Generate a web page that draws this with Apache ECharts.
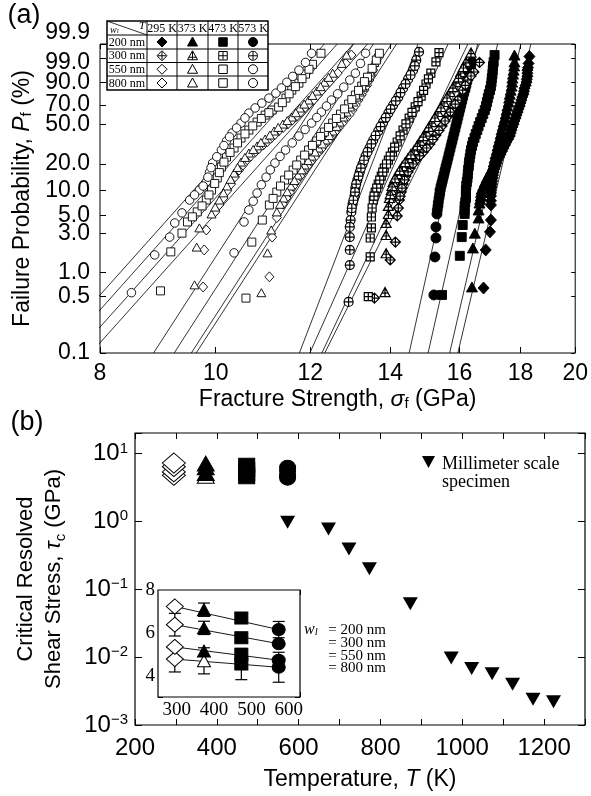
<!DOCTYPE html>
<html><head><meta charset="utf-8">
<script src="https://cdn.jsdelivr.net/npm/echarts@6/dist/echarts.min.js"></script>
<style>html,body{margin:0;padding:0;background:#fff}#c{width:591px;height:796px}</style>
</head><body><div id="c"></div>
<script>
// ---------------- Panel (a): Weibull plot, sigma_f (GPa) vs P_f (%) ----------------
const xTicksA = [8, 10, 12, 14, 16, 18, 20];
const yTicksA = [0.1, 0.5, 1, 3, 5, 10, 20, 50, 70, 90, 99, 99.9];
const yTickLabelsA = ['0.1','0.5','1.0','3.0','5.0','10.0','20.0','50.0','70.0','90.0','99.0','99.9'];

// w = 200 nm (filled)
const d295_200 = [[18.31,99.2],[18.28,98.1],[18.24,96.2],[18.24,93.6],[18.21,90.2],[18.14,85.8],[18.10,80.7],[18.03,75.1],[17.97,69.0],[17.90,62.7],[17.83,56.4],[17.76,50.3],[17.69,44.5],[17.63,39.2],[17.52,34.2],[17.42,29.7],[17.32,25.6],[17.22,22.1],[17.16,19.0],[17.09,16.2],[17.06,13.9],[17.03,11.8],[17.00,10.05],[17.00,8.55],[17.00,6.67],[17.00,4.39],[16.97,3.15],[16.83,1.89],[16.76,0.64],
  [18.26,97.0],[18.24,95.0],[18.22,92.0],[18.18,88.0],[18.12,83.3],[18.06,78.0],[18.00,72.2],[17.93,66.0],[17.86,59.5],[17.79,53.4],[17.72,47.5],[17.66,41.8],[17.58,36.7],[17.47,31.9],[17.37,27.6],[17.27,23.8],[17.19,20.5],[17.12,17.6],[17.07,15.0],[17.04,12.8],[17.02,10.9],[17.00,9.3],[17.00,7.5]];
const d373_200 = [[17.79,99.35],[17.79,98.4],[17.76,96.2],[17.72,92.6],[17.69,87.4],[17.63,80.7],[17.59,73.1],[17.52,64.8],[17.46,56.4],[17.39,48.4],[17.32,40.9],[17.25,34.2],[17.19,28.3],[17.12,23.2],[17.06,19.0],[16.93,15.4],[16.80,12.5],[16.70,10.3],[16.67,8.55],[16.63,7.05],[16.60,5.81],[16.60,4.65],[16.48,3.04],[16.42,2.0],[16.39,0.66],
  [17.78,97.5],[17.74,94.6],[17.71,90.2],[17.66,84.2],[17.61,77.0],[17.55,69.0],[17.49,60.6],[17.42,52.3],[17.35,44.6],[17.29,37.5],[17.22,31.2],[17.15,25.7],[17.09,21.0],[17.00,17.2],[16.86,13.9],[16.75,11.3],[16.68,9.4],[16.65,7.8]];
const d473_200 = [[17.12,99.35],[17.09,98.4],[17.06,96.2],[17.03,92.6],[17.00,87.4],[16.93,80.7],[16.87,73.1],[16.80,64.8],[16.70,56.4],[16.60,48.4],[16.51,40.9],[16.42,34.2],[16.36,28.3],[16.32,23.2],[16.29,19.0],[16.26,15.4],[16.23,12.5],[16.20,10.05],[16.20,8.08],[16.16,6.5],[16.16,5.2],[16.10,3.82],[16.07,2.72],[16.01,1.60],[15.47,0.525],
  [17.07,97.5],[17.05,94.6],[17.02,90.2],[16.97,84.2],[16.90,77.0],[16.84,69.0],[16.75,60.6],[16.65,52.3],[16.56,44.6],[16.47,37.5],[16.39,31.2],[16.34,25.7],[16.30,21.0],[16.27,17.2],[16.25,13.9],[16.21,11.3],[16.20,9.0],[16.18,7.2],[16.16,5.8]];
const d573_200 = [[16.39,98.4],[16.32,96.2],[16.26,92.6],[16.20,87.4],[16.13,80.7],[16.07,73.1],[16.01,64.8],[15.95,56.4],[15.89,48.4],[15.83,40.9],[15.77,34.2],[15.71,28.3],[15.65,23.2],[15.59,19.0],[15.53,15.4],[15.47,12.5],[15.41,10.05],[15.38,8.08],[15.35,6.5],[15.32,5.2],[15.29,3.62],[15.29,2.65],[15.26,1.55],[15.23,0.525],
  [16.35,97.5],[16.29,94.6],[16.23,90.2],[16.17,84.2],[16.10,77.0],[16.04,69.0],[15.98,60.6],[15.92,52.3],[15.86,44.6],[15.80,37.5],[15.74,31.2],[15.68,25.7],[15.62,21.0],[15.56,17.2],[15.50,13.9],[15.44,11.3],[15.40,9.0],[15.36,7.2],[15.33,5.8]];
// w = 300 nm (crossed)
const d295_300 = [[16.63,98.3],[16.45,95.5],[16.26,91.5],[16.10,84.2],[15.95,75.1],[15.80,66.9],[15.65,58.4],[15.47,48.4],[15.29,40.0],[15.11,32.6],[14.92,26.9],[14.71,22.1],[14.55,18.0],[14.43,14.6],[14.35,11.8],[14.30,9.5],[14.25,7.65],[14.22,6.14],[14.19,4.92],[14.14,2.36],[14.00,1.42],[13.58,0.48],
  [15.87,71.0],[15.72,62.7],[15.56,53.4],[15.38,44.2],[15.20,36.2],[15.02,29.7],[14.82,24.5],[14.63,20.0],[14.49,16.3],[14.39,13.2],[14.32,10.6],[14.27,8.5],[16.18,88.0],[16.36,93.7]];
const d373_300 = [[16.36,99.55],[16.20,98.4],[16.04,95.5],[15.89,90.2],[15.71,82.6],[15.53,73.1],[15.35,62.7],[15.17,52.2],[15.00,43.0],[14.83,35.1],[14.66,28.3],[14.49,23.2],[14.33,19.0],[14.19,15.4],[14.08,12.5],[14.03,10.05],[13.98,8.08],[13.95,6.5],[13.95,5.2],[13.89,4.05],[13.89,2.88],[13.89,1.72],[13.86,0.57],
  [16.12,97.2],[15.97,93.0],[15.80,86.6],[15.62,78.0],[15.44,68.0],[15.26,57.5],[15.08,47.5],[14.92,39.0],[14.75,31.6],[14.57,25.7],[14.41,21.0],[14.26,17.1],[14.13,13.9],[14.05,11.2],[14.00,9.0]];
const d473_300 = [[15.38,99.55],[15.29,98.4],[15.14,95.0],[15.00,88.9],[14.86,78.9],[14.69,68.2],[14.52,56.4],[14.35,44.5],[14.19,34.2],[14.06,26.9],[13.95,22.1],[13.84,18.0],[13.76,14.6],[13.68,11.8],[13.60,9.5],[13.55,7.65],[13.52,6.14],[13.50,4.78],[13.50,3.52],[13.47,2.65],[13.47,1.55],[13.42,0.5],
  [15.07,92.2],[14.93,84.0],[14.77,73.5],[14.60,62.3],[14.43,50.4],[14.27,39.2],[14.12,30.4],[14.00,24.4],[13.90,20.0],[13.80,16.2],[13.72,13.1],[13.64,10.6],[13.57,8.5]];
const d573_300 = [[14.80,99.6],[14.72,98.7],[14.63,96.2],[14.49,92.0],[14.35,85.8],[14.22,78.0],[14.08,70.0],[13.95,61.6],[13.81,52.2],[13.68,43.6],[13.55,35.8],[13.45,29.7],[13.35,24.4],[13.27,19.8],[13.20,16.2],[13.14,13.15],[13.09,10.6],[13.07,8.55],[13.02,6.85],[12.99,5.5],[12.97,4.39],[12.95,3.62],[12.95,2.72],[12.95,1.89],[12.95,1.23],[12.92,0.43],
  [14.68,97.5],[14.56,94.2],[14.42,89.0],[14.28,82.0],[14.15,74.2],[14.01,65.8],[13.88,56.9],[13.74,47.8],[13.61,39.6],[13.50,32.7],[13.40,27.0],[13.31,22.0],[13.23,18.0],[13.17,14.6],[13.11,11.8],[13.08,9.5],[13.04,7.6],[13.00,6.1]];
// w = 550 nm (open)
const d295_550 = [[11.09,0.88],[11.15,2.72],[11.25,4.7],[11.38,6.85],[11.54,9.5],[11.69,12.8],[11.85,16.6],[12.01,21.0],[12.18,26.3],[12.33,31.9],[12.50,38.2],[12.67,46.3],[12.85,55.4],[13.02,64.8],[13.17,75.1],[13.32,84.2],[13.45,91.5],[13.55,96.2],[13.63,98.5],
  [11.46,8.1],[11.61,11.1],[11.77,14.6],[11.93,18.7],[12.10,23.6],[12.26,29.0],[12.42,35.0],[12.58,42.2],[12.76,50.8],[12.94,60.0],[13.10,70.0],[13.25,80.0],[13.39,88.0],[13.50,94.0]];
const d373_550 = [[10.92,0.56],[11.05,1.74],[11.13,3.32],[11.25,5.51],[11.40,8.08],[11.56,11.2],[11.72,15.0],[11.87,19.5],[12.03,24.4],[12.20,29.7],[12.36,35.8],[12.53,43.6],[12.70,52.3],[12.87,62.7],[13.04,73.1],[13.20,82.6],[13.35,90.1],[13.47,95.5],[13.58,98.3],[13.66,99.5],
  [11.32,6.8],[11.48,9.6],[11.64,13.0],[11.80,17.2],[11.95,21.8],[12.11,27.0],[12.28,32.7],[12.45,39.6],[12.62,48.0],[12.79,57.5],[12.96,68.0],[13.12,78.0],[13.28,86.5],[13.41,93.0]];
const d473_550 = [[10.60,0.48],[10.72,2.36],[10.94,4.39],[11.09,6.67],[11.25,9.5],[11.42,13.15],[11.61,17.1],[11.78,22.1],[11.96,28.3],[12.15,35.0],[12.33,42.7],[12.53,51.3],[12.72,60.5],[12.92,71.0],[13.09,79.85],[13.25,87.4],[13.40,93.1],[13.52,96.8],[13.63,98.72],[13.71,99.5],
  [11.17,8.0],[11.33,11.2],[11.51,15.0],[11.69,19.5],[11.87,25.0],[12.05,31.6],[12.24,38.8],[12.43,47.0],[12.62,56.0],[12.82,66.0],[13.00,75.5],[13.17,84.0],[13.32,90.5]];
const d573_550 = [[10.36,1.74],[10.56,4.16],[10.66,5.81],[10.83,9.25],[11.02,14.2],[11.21,20.5],[11.44,28.3],[11.74,39.1],[12.03,51.3],[12.26,62.7],[12.50,75.1],[12.80,86.6],[13.09,95.0],[13.22,98.1],[13.35,99.5],
  [10.75,7.4],[10.92,11.6],[11.11,17.2],[11.32,24.2],[11.59,33.5],[11.88,45.0],[12.15,57.0],[12.38,69.0],[12.65,81.0],[12.95,91.5]];
// w = 800 nm (open)
const d295_800 = [[9.76,0.66],[9.78,1.89],[9.82,3.32],[9.99,5.51],[10.15,8.08],[10.30,11.8],[10.46,17.1],[10.62,22.1],[10.79,26.9],[10.96,31.9],[11.13,37.4],[11.29,43.6],[11.49,50.3],[11.69,58.4],[11.87,66.9],[12.08,75.1],[12.26,83.4],[12.45,90.1],[12.65,95.0],[12.85,98.1],[12.99,99.35],
  [10.07,6.7],[10.22,9.8],[10.38,14.3],[10.54,19.5],[10.70,24.4],[10.87,29.3],[11.05,34.6],[11.21,40.4],[11.39,47.0],[11.59,54.3],[11.78,62.7],[11.97,71.0],[12.17,79.5],[12.35,87.0],[12.55,93.0]];
const d373_800 = [[9.60,0.70],[9.64,2.05],[9.69,3.52],[9.92,5.2],[10.07,7.65],[10.22,11.2],[10.36,15.8],[10.50,21.0],[10.66,26.3],[10.83,31.2],[11.00,36.6],[11.19,43.6],[11.38,50.3],[11.58,57.4],[11.76,66.9],[11.96,75.1],[12.15,83.4],[12.33,90.1],[12.53,95.0],[12.75,98.1],[12.87,99.35],
  [9.99,6.3],[10.15,9.3],[10.29,13.4],[10.43,18.3],[10.58,23.6],[10.75,28.7],[10.91,33.9],[11.10,40.0],[11.28,47.0],[11.48,53.8],[11.67,62.0],[11.86,71.0],[12.05,79.5],[12.24,87.0],[12.43,93.0]];
const d473_800 = [[8.99,0.59],[9.17,1.79],[9.37,3.04],[9.47,4.16],[9.65,5.51],[9.82,7.65],[9.92,10.05],[10.03,13.9],[10.11,18.5],[10.21,23.8],[10.36,29.7],[10.50,37.4],[10.66,44.5],[10.83,52.3],[11.00,59.5],[11.15,64.8],[11.29,67.9],[11.45,77.0],[11.58,84.2],[11.74,89.5],[11.89,94.6],[12.05,97.9],[12.25,99.5],
  [9.56,4.8],[9.74,6.5],[9.87,8.8],[9.98,12.0],[10.07,16.0],[10.16,21.0],[10.28,26.7],[10.43,33.5],[10.58,41.0],[10.74,48.5],[10.92,56.0],[11.08,62.0],[11.37,72.5],[11.52,81.0],[11.66,87.0],[11.81,92.3],[11.97,96.5]];
const d573_800 = [[8.50,0.56],[8.89,1.64],[9.15,2.72],[9.24,4.04],[9.37,5.36],[9.51,7.65],[9.69,10.05],[9.82,12.5],[9.88,16.0],[9.94,20.5],[10.11,28.3],[10.21,35.0],[10.32,41.8],[10.50,51.3],[10.66,61.6],[10.93,72.0],[11.23,81.6],[11.47,90.1],[11.74,96.2],[11.89,98.3],[12.03,99.5],
  [9.60,8.8],[9.76,11.2],[9.85,14.2],[9.91,18.2],[10.02,24.0],[10.16,31.5],[10.27,38.4],[10.41,46.5],[10.58,56.5],[10.79,67.0],[11.08,77.0],[11.35,86.0],[11.60,93.5]];

// Weibull fit lines: sigma at P = 0.1 % and at P = 99.9 %
const fit295_200 = [15.95, 18.36], fit373_200 = [15.70, 18.01], fit473_200 = [15.06, 17.22], fit573_200 = [14.52, 16.57];
const fit295_300 = [12.34, 16.63], fit373_300 = [12.27, 16.26], fit473_300 = [11.99, 15.65], fit573_300 = [11.75, 14.77];
const fit295_550 = [9.63, 14.17], fit373_550 = [9.54, 14.03], fit473_550 = [9.23, 13.55], fit573_550 = [8.87, 13.04];
const fit295_800 = [7.86, 13.40], fit373_800 = [7.65, 13.04], fit473_800 = [7.43, 12.64], fit573_800 = [7.24, 12.33];

const tableTemps = ['295 K', '373 K', '473 K', '573 K'];
const tableWidths = ['200 nm', '300 nm', '550 nm', '800 nm'];

// ---------------- Panel (b): critical resolved shear stress ----------------
const bTemps = [295, 373, 473, 573];
const tau200 = [7.23, 7.08, 6.69, 6.15];
const tau300 = [6.38, 6.23, 5.77, 5.49];
const tau550 = [5.34, 5.15, 5.00, 4.72];
const tau800 = [4.77, 4.69, 4.54, 4.39];
const err200 = [0, 0.31, 0, 0.38];
const err300 = [0.53, 0.31, 0, 0];
const err550 = [0, 0, 0, 0];
const err800 = [0.60, 0.61, 0.73, 0.70];
const mmT = [573, 673, 723, 773, 873, 973, 1023, 1073, 1123, 1173, 1223];
const mmTau = [0.97, 0.77, 0.39, 0.20, 0.061, 0.0097, 0.0068, 0.0057, 0.0040, 0.0024, 0.0022];
const widthLabels = ['= 200 nm', '= 300 nm', '= 550 nm', '= 800 nm'];

// ------------------------------------------------------------------
const SANS = "'Liberation Sans', Arial, Helvetica, sans-serif";
const SERIF = "'Liberation Serif', 'Times New Roman', serif";
const W = p => Math.log(-Math.log(1 - p / 100));
const Ln = s => Math.log(s);
const toXY = arr => arr.map(d => [Ln(d[0]), W(d[1])]);
const yTickW = yTicksA.map(W);
const xTickL = xTicksA.map(Ln);

const P = {
  diamondX: 'path://M5 0L10 5L5 10L0 5ZM5 0L5 10M0 5L10 5',
  triX: 'path://M5 0L10 9L0 9ZM5 0L5 9M2.5 5.5L7.5 5.5',
  rectX: 'path://M0 0L10 0L10 10L0 10ZM5 0L5 10M0 5L10 5',
  circX: 'path://M0 5A5 5 0 1 1 10 5A5 5 0 1 1 0 5ZM5 0L5 10M0 5L10 5'
};

const groupsA = [
  {d: d295_200, f: fit295_200, sym: 'diamond', size: [11, 12], fill: '#000', bw: 0.9},
  {d: d373_200, f: fit373_200, sym: 'triangle', size: [11, 10], fill: '#000', bw: 0.9},
  {d: d473_200, f: fit473_200, sym: 'rect', size: 9, fill: '#000', bw: 0.9},
  {d: d573_200, f: fit573_200, sym: 'circle', size: 10, fill: '#000', bw: 0.9},
  {d: d295_300, f: fit295_300, sym: P.diamondX, size: [10, 10], fill: '#fff', bw: 1.2},
  {d: d373_300, f: fit373_300, sym: P.triX, size: [10, 9], fill: '#fff', bw: 1.2},
  {d: d473_300, f: fit473_300, sym: P.rectX, size: [8, 8], fill: '#fff', bw: 1.2},
  {d: d573_300, f: fit573_300, sym: P.circX, size: [9, 9], fill: '#fff', bw: 1.2},
  {d: d295_550, f: fit295_550, sym: 'diamond', size: [9, 10], fill: '#fff', bw: 0.9},
  {d: d373_550, f: fit373_550, sym: 'triangle', size: [9, 8], fill: '#fff', bw: 0.9},
  {d: d473_550, f: fit473_550, sym: 'rect', size: 8, fill: '#fff', bw: 0.9},
  {d: d573_550, f: fit573_550, sym: 'circle', size: 8.5, fill: '#fff', bw: 0.9},
  {d: d295_800, f: fit295_800, sym: 'diamond', size: [9, 10], fill: '#fff', bw: 0.9},
  {d: d373_800, f: fit373_800, sym: 'triangle', size: [9, 8], fill: '#fff', bw: 0.9},
  {d: d473_800, f: fit473_800, sym: 'rect', size: 8, fill: '#fff', bw: 0.9},
  {d: d573_800, f: fit573_800, sym: 'circle', size: 8.5, fill: '#fff', bw: 0.9}
];

const series = [];
groupsA.forEach(g => {
  series.push({type: 'line', xAxisIndex: 0, yAxisIndex: 0, silent: true, symbol: 'none', clip: true, z: 1,
    data: [[Ln(g.f[0]), W(0.1)], [Ln(g.f[1]), W(99.9)]],
    lineStyle: {color: '#000', width: 0.8}});
});
groupsA.forEach(g => {
  series.push({type: 'scatter', xAxisIndex: 0, yAxisIndex: 0, silent: true, z: 2,
    symbol: g.sym, symbolSize: g.size, data: toXY(g.d),
    itemStyle: {color: g.fill, borderColor: '#000', borderWidth: g.bw, opacity: 1}});
});

// panel (b) main + inset markers
const tauByWidth = [tau200, tau300, tau550, tau800];
const errByWidth = [err200, err300, err550, err800];
const tempStyles = [
  {sym: 'diamond', main: [23, 20], ins: [17, 15], fills: ['#fff', '#fff', '#fff', '#fff']},
  {sym: 'triangle', main: [17, 15], ins: [13, 12], fills: ['#000', '#000', '#000', '#fff']},
  {sym: 'rect', main: [16, 14], ins: [13, 12], fills: ['#000', '#000', '#000', '#000']},
  {sym: 'circle', main: [16, 15], ins: [13, 12], fills: ['#000', '#000', '#000', '#000']}
];
tempStyles.forEach((ts, j) => {
  series.push({type: 'scatter', xAxisIndex: 2, yAxisIndex: 2, silent: true, z: 3, symbol: ts.sym, symbolSize: ts.main,
    data: tauByWidth.map((t, i) => ({value: [bTemps[j], t[j]],
      itemStyle: {color: ts.fills[i], borderColor: '#000', borderWidth: 1, opacity: 1}})).reverse()});
});
series.push({type: 'scatter', xAxisIndex: 2, yAxisIndex: 2, silent: true, z: 3, symbol: 'triangle', symbolRotate: 180,
  symbolSize: [15, 13], data: mmT.map((t, i) => [t, mmTau[i]]), itemStyle: {color: '#000', opacity: 1}});

// inset lines (per width), error bars, markers
tauByWidth.forEach(t => {
  series.push({type: 'line', xAxisIndex: 4, yAxisIndex: 4, silent: true, symbol: 'none', z: 3,
    data: [[bTemps[0], t[0]], [bTemps[3], t[3]]], lineStyle: {color: '#000', width: 0.9}});
});
const errData = [];
tauByWidth.forEach((t, i) => t.forEach((v, j) => { if (errByWidth[i][j] > 0) errData.push([bTemps[j], v, errByWidth[i][j]]); }));
series.push({type: 'custom', xAxisIndex: 4, yAxisIndex: 4, silent: true, z: 4, data: errData,
  renderItem: (params, api) => {
    const x = api.value(0), y = api.value(1), e = api.value(2);
    const a = api.coord([x, y - e]), b = api.coord([x, y + e]);
    const w = 6, st = {stroke: '#000', lineWidth: 1.2};
    return {type: 'group', children: [
      {type: 'line', shape: {x1: a[0], y1: a[1], x2: b[0], y2: b[1]}, style: st},
      {type: 'line', shape: {x1: a[0] - w, y1: a[1], x2: a[0] + w, y2: a[1]}, style: st},
      {type: 'line', shape: {x1: b[0] - w, y1: b[1], x2: b[0] + w, y2: b[1]}, style: st}
    ]};
  }});
tempStyles.forEach((ts, j) => {
  series.push({type: 'scatter', xAxisIndex: 4, yAxisIndex: 4, silent: true, z: 5, symbol: ts.sym, symbolSize: ts.ins,
    data: tauByWidth.map((t, i) => ({value: [bTemps[j], t[j]], itemStyle: {color: ts.fills[i], borderColor: '#000', borderWidth: 1, opacity: 1}})).reverse()});
});

// ---------------- axes ----------------
const tickStyle = {color: '#000', width: 1};
const noLine = {show: false, onZero: false};
const lblA = {fontSize: 23, color: '#000', fontFamily: SANS};
function yLabelA(v) {
  const i = yTickW.findIndex(w => Math.abs(w - v) < 1e-6);
  if (i < 0) return '';
  const s = yTickLabelsA[i];
  if (s === '99.9') return '{up|99.9}';
  if (s === '99.0') return '{dn|99.0}';
  return s;
}
function logLabel(v) {
  const e = Math.log10(v), r = Math.round(e);
  if (Math.abs(e - r) > 1e-6) return '';
  return '10{sup|' + (r < 0 ? '\u2212' + (-r) : r) + '}';
}
const xAxis = [
  {gridIndex: 0, type: 'value', position: 'bottom', min: Ln(8), max: Ln(20), splitLine: {show: false}, axisLine: noLine,
   axisTick: {show: true, inside: true, length: 6, customValues: xTickL, lineStyle: tickStyle},
   axisLabel: {customValues: xTickL, formatter: v => String(Math.round(Math.exp(v))), margin: 9, ...lblA},
   name: 'Fracture Strength, {i|\u03c3}{sub|f} (GPa)', nameLocation: 'middle', nameGap: 35,
   nameTextStyle: {fontSize: 23, color: '#000', fontFamily: SANS,
     rich: {i: {fontSize: 23, fontStyle: 'italic', fontFamily: SANS}, sub: {fontSize: 15, verticalAlign: 'bottom', fontFamily: SANS}}}},
  {gridIndex: 0, type: 'value', position: 'top', min: Ln(8), max: Ln(20), splitLine: {show: false}, axisLine: noLine,
   axisTick: {show: true, inside: true, length: 5, customValues: xTickL, lineStyle: tickStyle}, axisLabel: {show: false}},
  {gridIndex: 1, type: 'value', position: 'bottom', min: 200, max: 1300, interval: 100, splitLine: {show: false}, axisLine: noLine,
   axisTick: {show: true, inside: true, length: 6, lineStyle: tickStyle},
   axisLabel: {formatter: v => (v % 200 === 0 && v <= 1200) ? String(v) : '', margin: 11, fontSize: 24, color: '#000', fontFamily: SANS},
   name: 'Temperature, {i|T} (K)', nameLocation: 'middle', nameGap: 43,
   nameTextStyle: {fontSize: 23, color: '#000', fontFamily: SANS, rich: {i: {fontSize: 23, fontStyle: 'italic', fontFamily: SANS}}}},
  {gridIndex: 1, type: 'value', position: 'top', min: 200, max: 1300, interval: 100, splitLine: {show: false}, axisLine: noLine,
   axisTick: {show: true, inside: true, length: 6, lineStyle: tickStyle}, axisLabel: {show: false}},
  {gridIndex: 2, type: 'value', position: 'bottom', min: 250, max: 630, interval: 50, splitLine: {show: false}, axisLine: noLine,
   axisTick: {show: true, inside: true, length: 5, lineStyle: tickStyle},
   axisLabel: {formatter: v => (v % 100 === 0) ? String(v) : '', margin: 4, fontSize: 19, color: '#000', fontFamily: SERIF}},
  {gridIndex: 2, type: 'value', position: 'top', min: 250, max: 630, interval: 50, splitLine: {show: false}, axisLine: noLine,
   axisTick: {show: true, inside: true, length: 5, lineStyle: tickStyle}, axisLabel: {show: false}}
];
const yAxis = [
  {gridIndex: 0, type: 'value', position: 'left', min: W(0.1), max: W(99.9), splitLine: {show: false}, axisLine: noLine,
   axisTick: {show: true, inside: true, length: 6, customValues: yTickW, lineStyle: tickStyle},
   axisLabel: {customValues: yTickW, formatter: yLabelA, margin: 10, ...lblA,
     rich: {up: {fontSize: 23, fontFamily: SANS, color: '#000', padding: [0, 0, 22, 0]},
            dn: {fontSize: 23, fontFamily: SANS, color: '#000', padding: [8, 0, 0, 0]}}},
   name: 'Failure Probability, {i|P}{sub|f} (%)', nameLocation: 'middle', nameGap: 66, nameRotate: 90,
   nameTextStyle: {fontSize: 23, color: '#000', fontFamily: SANS,
     rich: {i: {fontSize: 23, fontStyle: 'italic', fontFamily: SANS}, sub: {fontSize: 15, verticalAlign: 'bottom', fontFamily: SANS}}}},
  {gridIndex: 0, type: 'value', position: 'right', min: W(0.1), max: W(99.9), splitLine: {show: false}, axisLine: noLine,
   axisTick: {show: true, inside: true, length: 4, customValues: yTickW, lineStyle: tickStyle}, axisLabel: {show: false}},
  {gridIndex: 1, type: 'log', logBase: 10, position: 'left', min: 0.001, max: 20, splitLine: {show: false}, axisLine: noLine,
   axisTick: {show: true, inside: true, length: 7, lineStyle: tickStyle}, minorTick: {show: false},
   axisLabel: {formatter: logLabel, margin: 7, fontSize: 24, color: '#000', fontFamily: SANS,
     rich: {sup: {fontSize: 15, fontFamily: SANS, color: '#000', verticalAlign: 'top', padding: [0, 0, 10, 0]}}},
   name: 'Critical Resolved\nShear Stress, {i|\u03c4}{sub|c} (GPa)', nameLocation: 'middle', nameGap: 67, nameRotate: 90,
   nameTextStyle: {fontSize: 22, lineHeight: 28, color: '#000', fontFamily: SANS,
     rich: {i: {fontSize: 22, lineHeight: 28, fontStyle: 'italic', fontFamily: SANS}, sub: {fontSize: 15, lineHeight: 24, verticalAlign: 'bottom', fontFamily: SANS}}}},
  {gridIndex: 1, type: 'log', logBase: 10, position: 'right', min: 0.001, max: 20, splitLine: {show: false}, axisLine: noLine,
   axisTick: {show: true, inside: true, length: 7, lineStyle: tickStyle}, axisLabel: {show: false}},
  {gridIndex: 2, type: 'value', position: 'left', min: 3, max: 8, interval: 1, splitLine: {show: false}, axisLine: noLine,
   axisTick: {show: true, inside: true, length: 5, lineStyle: tickStyle},
   axisLabel: {formatter: v => (v % 2 === 0) ? String(v) : '', margin: 3, fontSize: 19, color: '#000', fontFamily: SERIF}},
  {gridIndex: 2, type: 'value', position: 'right', min: 3, max: 8, interval: 1, splitLine: {show: false}, axisLine: noLine,
   axisTick: {show: true, inside: true, length: 5, lineStyle: tickStyle}, axisLabel: {show: false}}
];

// ---------------- graphics: panel letters, legend table, notes ----------------
const G = [];
G.push({type: 'text', x: 24, y: 16, style: {text: '(a)', fontSize: 27, fontFamily: SANS, fill: '#000', align: 'center', verticalAlign: 'middle'}});
G.push({type: 'text', x: 27, y: 423, style: {text: '(b)', fontSize: 27, fontFamily: SANS, fill: '#000', align: 'center', verticalAlign: 'middle'}});
const cols = [107, 147, 177, 208, 238, 268], rows = [21, 35, 49, 62.5, 76, 90];
G.push({type: 'rect', shape: {x: cols[0], y: rows[0], width: cols[5] - cols[0], height: rows[5] - rows[0]},
  style: {fill: '#fff', stroke: '#000', lineWidth: 1.5}});
for (let i = 1; i < 5; i++) {
  G.push({type: 'line', shape: {x1: cols[i], y1: rows[0], x2: cols[i], y2: rows[5]}, style: {stroke: '#000', lineWidth: 1}});
  G.push({type: 'line', shape: {x1: cols[0], y1: rows[i], x2: cols[5], y2: rows[i]}, style: {stroke: '#000', lineWidth: 1}});
}
G.push({type: 'line', shape: {x1: cols[0], y1: rows[0], x2: cols[1], y2: rows[1]}, style: {stroke: '#000', lineWidth: 0.8}});
G.push({type: 'text', x: 110, y: 30, style: {text: '{i|w}{s|l}', fontSize: 10, fontFamily: SERIF, fill: '#000', align: 'left', verticalAlign: 'middle',
  rich: {i: {fontSize: 10, fontStyle: 'italic', fontFamily: SERIF}, s: {fontSize: 7, fontStyle: 'italic', fontFamily: SERIF, verticalAlign: 'bottom'}}}});
G.push({type: 'text', x: 142, y: 26, style: {text: 'T', fontSize: 11, fontStyle: 'italic', fontFamily: SERIF, fill: '#000', align: 'center', verticalAlign: 'middle'}});
tableTemps.forEach((t, c) => G.push({type: 'text', x: (cols[c + 1] + cols[c + 2]) / 2, y: 28.5,
  style: {text: t, fontSize: 12, fontFamily: SERIF, fill: '#000', align: 'center', verticalAlign: 'middle'}}));
tableWidths.forEach((w, r) => G.push({type: 'text', x: 127, y: (rows[r + 1] + rows[r + 2]) / 2 + 0.5,
  style: {text: w, fontSize: 12, fontFamily: SERIF, fill: '#000', align: 'center', verticalAlign: 'middle'}}));
function markerEls(shape, kind, cx, cy, r) {
  const st = {fill: kind === 'filled' ? '#000' : '#fff', stroke: '#000', lineWidth: 1};
  const out = [];
  if (shape === 'diamond') out.push({type: 'polygon', shape: {points: [[cx, cy - r], [cx + r, cy], [cx, cy + r], [cx - r, cy]]}, style: st});
  else if (shape === 'triangle') out.push({type: 'polygon', shape: {points: [[cx, cy - r], [cx + r, cy + r * 0.8], [cx - r, cy + r * 0.8]]}, style: st});
  else if (shape === 'square') out.push({type: 'rect', shape: {x: cx - r * 0.85, y: cy - r * 0.85, width: r * 1.7, height: r * 1.7}, style: st});
  else out.push({type: 'circle', shape: {cx: cx, cy: cy, r: r * 0.9}, style: st});
  if (kind === 'hatched') {
    const h = r * 0.8, dy = shape === 'triangle' ? 1.5 : 0;
    out.push({type: 'line', shape: {x1: cx, y1: cy - h, x2: cx, y2: cy + h}, style: {stroke: '#000', lineWidth: 1}});
    out.push({type: 'line', shape: {x1: cx - h, y1: cy + dy, x2: cx + h, y2: cy + dy}, style: {stroke: '#000', lineWidth: 1}});
  }
  return out;
}
const shapes = ['diamond', 'triangle', 'square', 'circle'];
const kinds = ['filled', 'hatched', 'open', 'open'];
kinds.forEach((k, r) => shapes.forEach((s, c) => {
  markerEls(s, k, (cols[c + 1] + cols[c + 2]) / 2, (rows[r + 1] + rows[r + 2]) / 2, 5).forEach(e => G.push(e));
}));
// millimeter legend
G.push({type: 'polygon', shape: {points: [[422, 456], [435, 456], [428.5, 468]]}, style: {fill: '#000'}});
G.push({type: 'text', x: 442, y: 464, style: {text: 'Millimeter scale', fontSize: 18, fontFamily: SERIF, fill: '#000', align: 'left', verticalAlign: 'middle'}});
G.push({type: 'text', x: 442, y: 482, style: {text: 'specimen', fontSize: 18, fontFamily: SERIF, fill: '#000', align: 'left', verticalAlign: 'middle'}});
// inset width labels
G.push({type: 'text', x: 304, y: 630, style: {text: '{i|w}{s|l}', fontSize: 16, fontFamily: SERIF, fill: '#000', align: 'left', verticalAlign: 'middle',
  rich: {i: {fontSize: 16, fontStyle: 'italic', fontFamily: SERIF}, s: {fontSize: 11, fontStyle: 'italic', fontFamily: SERIF, verticalAlign: 'bottom'}}}});
widthLabels.forEach((t, i) => G.push({type: 'text', x: 386, y: 630 + i * 12.8,
  style: {text: t, fontSize: 15, fontFamily: SERIF, fill: '#000', align: 'right', verticalAlign: 'middle'}}));
G.forEach(e => { e.z = 100; e.silent = true; });

const chart = echarts.init(document.getElementById('c'), null, {renderer: 'canvas'});
chart.setOption({
  animation: false,
  backgroundColor: '#fff',
  grid: [
    {left: 100, top: 44, width: 478, height: 309, show: true, borderColor: '#000', borderWidth: 1, backgroundColor: 'transparent'},
    {left: 135, top: 433, width: 450, height: 292, show: true, borderColor: '#000', borderWidth: 1.2, backgroundColor: 'transparent'},
    {left: 158, top: 590, width: 142, height: 107, show: true, borderColor: '#000', borderWidth: 1.2, backgroundColor: '#fff', z: 2}
  ],
  xAxis: xAxis,
  yAxis: yAxis,
  series: series,
  graphic: {elements: G}
});
</script>
</body></html>
